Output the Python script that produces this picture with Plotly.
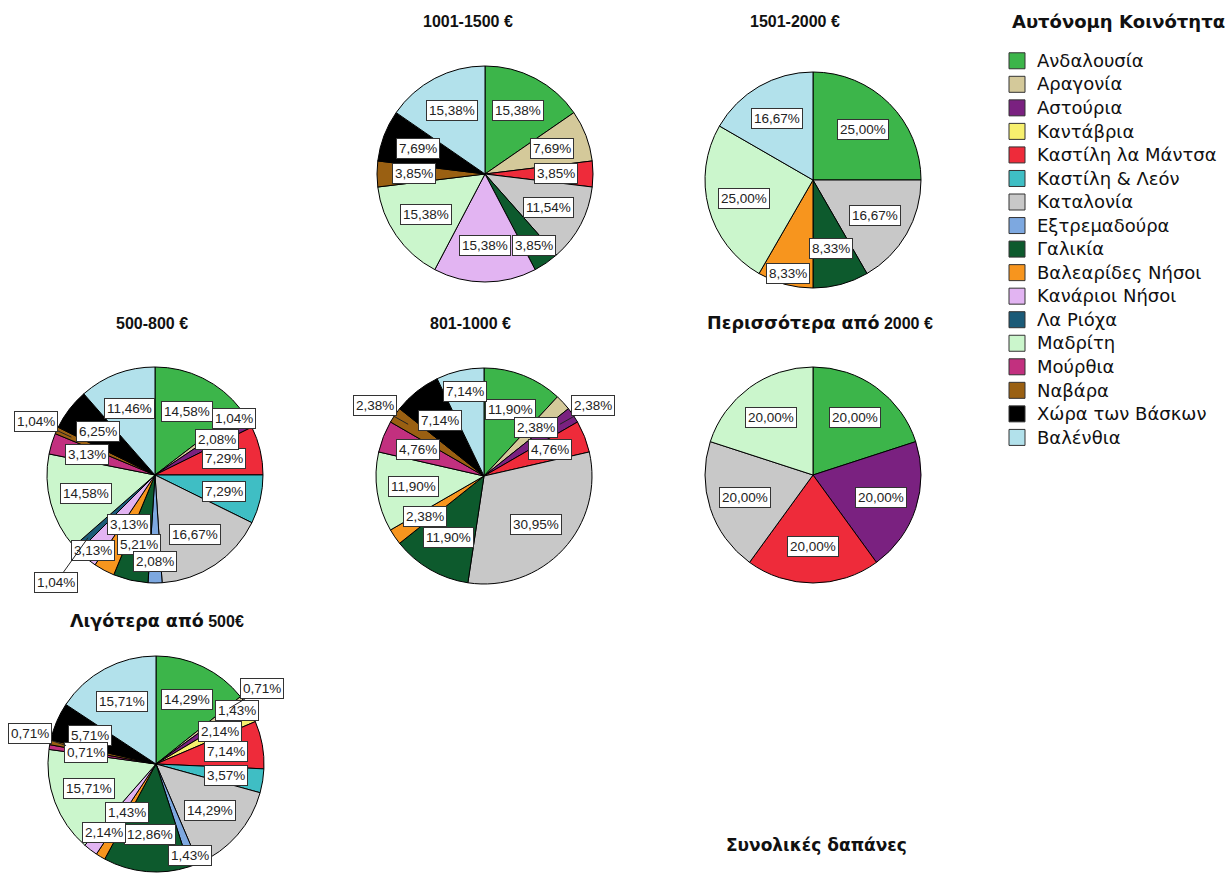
import math
import re
import plotly.graph_objects as go

W, H = 1228, 888

# Autonomous communities (legend order = slice order, clockwise from 12 o'clock)
regions = [
    "Ανδαλουσία", "Αραγονία", "Αστούρια", "Καντάβρια", "Καστίλη λα Μάντσα",
    "Καστίλη & Λεόν", "Καταλονία", "Εξτρεμαδούρα", "Γαλικία", "Βαλεαρίδες Νήσοι",
    "Κανάριοι Νήσοι", "Λα Ριόχα", "Μαδρίτη", "Μούρθια", "Ναβάρα",
    "Χώρα των Βάσκων", "Βαλένθια",
]
colors = [
    "#3cb54a", "#d4c99a", "#7a2180", "#f7f06e", "#ee2b3a",
    "#3fbec4", "#c8c8c8", "#7da8e0", "#0d5a2d", "#f7951e",
    "#e2b4f2", "#1b5b78", "#cbf6cc", "#c2307f", "#9a6012",
    "#000000", "#b2e1eb",
]

# Share of respondents (%) per spending band
pct_1001_1500 = [15.38, 7.69, 0, 0, 3.85, 0, 11.54, 0, 3.85, 0, 15.38, 0, 15.38, 0, 3.85, 7.69, 15.38]
pct_1501_2000 = [25.00, 0, 0, 0, 0, 0, 16.67, 0, 8.33, 8.33, 0, 0, 25.00, 0, 0, 0, 16.67]
pct_500_800 = [14.58, 1.04, 2.08, 0, 7.29, 7.29, 16.67, 2.08, 5.21, 3.13, 3.13, 1.04, 14.58, 3.13, 1.04, 6.25, 11.46]
pct_801_1000 = [11.90, 2.38, 2.38, 0, 4.76, 0, 30.95, 0, 11.90, 2.38, 0, 0, 11.90, 4.76, 2.38, 7.14, 7.14]
pct_over_2000 = [20.00, 0, 20.00, 0, 20.00, 0, 20.00, 0, 0, 0, 0, 0, 20.00, 0, 0, 0, 0]
pct_under_500 = [14.29, 0.71, 1.43, 2.14, 7.14, 3.57, 14.29, 1.43, 12.86, 1.43, 2.14, 0, 15.71, 0.71, 0.71, 5.71, 15.71]

# (values, title, pie centre in px, title centre in px)
panels = [
    (pct_1001_1500, "1001-1500 €", (485, 174), (468, 22)),
    (pct_1501_2000, "1501-2000 €", (813, 180), (795, 22)),
    (pct_500_800, "500-800 €", (155, 475), (152, 323)),
    (pct_801_1000, "801-1000 €", (484, 476), (470, 323)),
    (pct_over_2000, "Περισσότερα από 2000 €", (813, 475), (820, 323)),
    (pct_under_500, "Λιγότερα από 500€", (156, 764), (157, 621)),
]

R = 108          # pie radius in px
LABEL_FS = 13.5
FONT = "Liberation Sans, Arial, sans-serif"
GREEK_FONT = "DejaVu Sans"
GREEK_RUN = re.compile(r"[\u0370-\u03ff\u1f00-\u1fff]+(?:[\s&]+[\u0370-\u03ff\u1f00-\u1fff]+)*")


def greek_span(s, size):
    """Set Greek words in a wider sans face, digits/symbols stay in the base face."""
    return GREEK_RUN.sub(
        lambda m: f'<span style="font-family:{GREEK_FONT};font-size:{size}px">{m.group(0)}</span>', s)


def fmt(v):
    return f"{v:.2f}".replace(".", ",") + "%"


def text_width(s, fs):
    w = 0.0
    for ch in s:
        if ch.isdigit():
            w += 0.556
        elif ch == ",":
            w += 0.278
        elif ch == "%":
            w += 0.889
        else:
            w += 0.55
    return w * fs


def px_to_paper(x, y):
    return x / W, 1 - y / H


def overlaps(a, b, tol=5):
    return (abs(a[0] - b[0]) < (a[2] + b[2]) / 2 - tol and
            abs(a[1] - b[1]) < (a[3] + b[3]) / 2 - tol)


def on_page(b):
    return b[2] / 2 + 1 <= b[0] <= W - b[2] / 2 - 1 and b[3] / 2 + 1 <= b[1] <= H - b[3] / 2 - 1


fig = go.Figure()
annotations = []
title_boxes = [(tx, ty, 9.5 * len(t), 22) for _, t, _, (tx, ty) in panels]
all_placed = list(title_boxes)

for values, title, (cx, cy), (tx, ty) in panels:
    idx = [i for i, v in enumerate(values) if v > 0]
    vals = [values[i] for i in idx]
    fig.add_trace(go.Pie(
        labels=[regions[i] for i in idx],
        values=vals,
        sort=False,
        direction="clockwise",
        rotation=0,
        marker=dict(colors=[colors[i] for i in idx], line=dict(color="black", width=1)),
        textinfo="none",
        showlegend=False,
        hovertemplate="%{label}: %{value:.2f}%<extra>" + title + "</extra>",
        domain=dict(x=[(cx - R) / W, (cx + R) / W], y=[1 - (cy + R) / H, 1 - (cy - R) / H]),
    ))

    # mid-angle of every slice
    total = sum(vals)
    mids, cum = [], 0.0
    for v in vals:
        mids.append(2 * math.pi * (cum + v / 2) / total)
        cum += v

    # value boxes: biggest slices first go inside; crowded small ones move outside with a leader
    order = sorted(range(len(vals)), key=lambda k: -vals[k])
    for k in order:
        v, th = vals[k], mids[k]
        s, c = math.sin(th), math.cos(th)
        text = fmt(v)
        bw = text_width(text, LABEL_FS) + 8
        bh = LABEL_FS + 8

        box, inside = None, True
        for frac in (0.66, 0.8, 0.52, 0.9):
            cand = (cx + frac * R * s, cy - frac * R * c, bw, bh)
            if not any(overlaps(cand, p) for p in all_placed):
                box = cand
                break
        if box is None:
            inside = False
            sx = 1 if s >= 0 else -1
            bx0 = cx + (R + 2) * s + sx * bw * 0.4
            by0 = cy - (R + 2) * c - (bh * 0.4 if c >= 0 else -bh * 0.4)
            bx0 = min(max(bx0, bw / 2 + 2), W - bw / 2 - 2)
            step = bh + 2
            box = (bx0, by0, bw, bh)
            for m in (0, 1, -1, 2, -2, 3, -3, 4, -4):
                cand = (bx0, by0 + m * step, bw, bh)
                if on_page(cand) and not any(overlaps(cand, p) for p in all_placed):
                    box = cand
                    break
        all_placed.append(box)
        bx, by = box[0], box[1]

        common = dict(
            text=text, xref="paper", yref="paper",
            font=dict(family=FONT, size=LABEL_FS, color="#222"),
            bgcolor="white", bordercolor="#333", borderwidth=1, borderpad=2,
        )
        if inside:
            x, y = px_to_paper(bx, by)
            annotations.append(dict(x=x, y=y, showarrow=False, xanchor="center", yanchor="middle", **common))
        else:
            ptx, pty = cx + 0.85 * R * s, cy - 0.85 * R * c
            x, y = px_to_paper(ptx, pty)
            annotations.append(dict(
                x=x, y=y, ax=bx - ptx, ay=by - pty, showarrow=True,
                arrowhead=0, arrowwidth=1, arrowcolor="#222", standoff=0, **common))

    x, y = px_to_paper(tx, ty)
    annotations.append(dict(
        text=f"<b>{greek_span(title, 17.5)}</b>", x=x, y=y, xref="paper", yref="paper", showarrow=False,
        xanchor="center", yanchor="middle", font=dict(family=FONT, size=16, color="#111"),
    ))

# legend heading
x, y = px_to_paper(1010, 22)
annotations.append(dict(
    text="<b>Αυτόνομη Κοινότητα</b>", x=x, y=y, xref="paper", yref="paper", showarrow=False,
    xanchor="left", yanchor="middle", font=dict(family=GREEK_FONT, size=18, color="#111"),
))

# heading of the next chart block
x, y = px_to_paper(816, 845)
annotations.append(dict(
    text="<b>Συνολικές δαπάνες</b>", x=x, y=y, xref="paper", yref="paper", showarrow=False,
    xanchor="center", yanchor="middle", font=dict(family=GREEK_FONT, size=17, color="#111"),
))

# legend entries (one square swatch per community)
for name, col in zip(regions, colors):
    fig.add_trace(go.Scatter(
        x=[None], y=[None], mode="markers", name=greek_span(name, 18),
        marker=dict(symbol="square", size=16, color=col, line=dict(color="#333", width=1)),
        hoverinfo="skip",
    ))

fig.update_layout(
    width=W, height=H,
    margin=dict(l=0, r=0, t=0, b=0),
    paper_bgcolor="white", plot_bgcolor="white",
    xaxis=dict(visible=False), yaxis=dict(visible=False),
    annotations=annotations,
    legend=dict(
        x=997 / W, xanchor="left", y=1 - 44 / H, yanchor="top",
        font=dict(family=GREEK_FONT, size=15.8, color="#111"),
        bgcolor="rgba(0,0,0,0)", tracegroupgap=0, itemwidth=30,
    ),
    showlegend=True,
)

fig.write_html("out.html")
